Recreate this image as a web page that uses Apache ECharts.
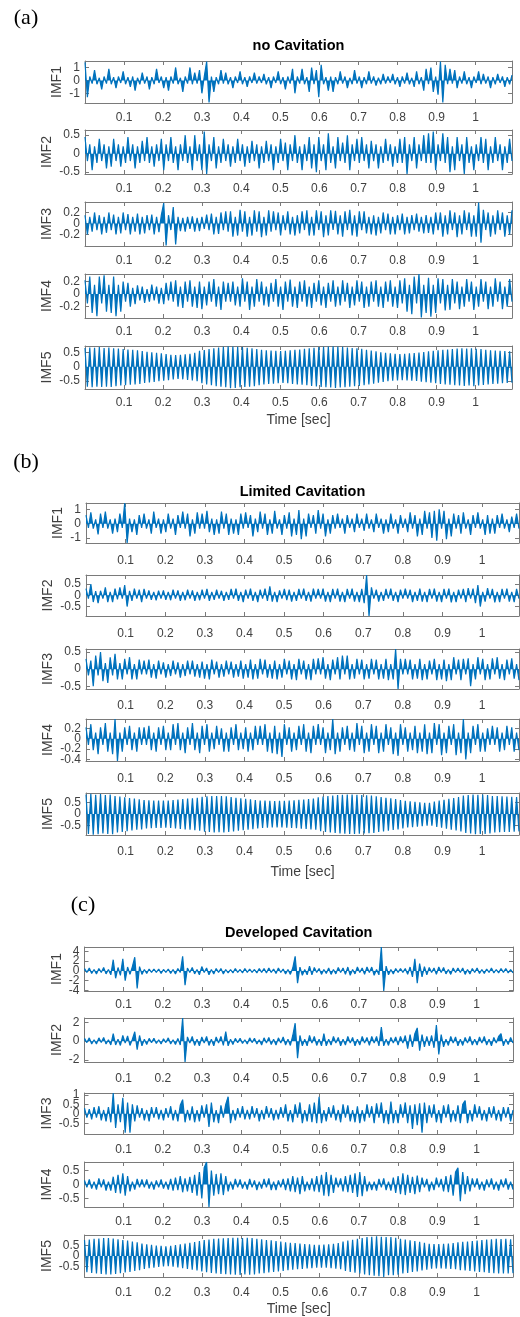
<!DOCTYPE html>
<html>
<head>
<meta charset="utf-8">
<script src="https://cdn.jsdelivr.net/npm/echarts@6/dist/echarts.min.js"></script>
<style>
  html, body { margin: 0; padding: 0; background: #fff; }
  #chart { width: 520px; height: 1317px; }
</style>
</head>
<body>
<div id="chart"></div>
<script>
// time axis (seconds) and its ticks
const tEnd = 1.093;
const xTicks = [0.1, 0.2, 0.3, 0.4, 0.5, 0.6, 0.7, 0.8, 0.9, 1];
const imfNames = ["IMF1", "IMF2", "IMF3", "IMF4", "IMF5"];
const panelTitles = ["no Cavitation", "Limited Cavitation", "Developed Cavitation"];
const panelLetters = ["(a)", "(b)", "(c)"];

// (a) no cavitation - successive extremes of each IMF, evenly spaced over tEnd
const noCavIMF1 = [
  1.4,-1.3,0.3,-0.25,0.8,-0.3,0.2,-0.7,0.3,-0.25,0.9,-0.3,
  0.25,-0.6,0.3,-0.2,0.7,-0.3,0.25,-0.5,0.3,-0.8,0.2,-0.3,
  0.6,-0.25,0.3,-0.7,0.25,-0.3,0.9,-0.2,0.3,-0.6,0.25,-0.8,
  0.3,-0.25,1.0,-0.3,0.2,-0.9,0.3,-0.25,1.0,-0.3,0.6,-0.25,
  0.8,-1.0,0.3,1.45,-1.7,0.3,-0.9,0.25,-0.3,0.8,-0.25,0.6,
  -0.3,0.25,-0.6,0.3,-0.2,0.7,-0.3,0.25,-0.5,0.3,-0.2,0.6,
  -0.25,0.3,-0.2,0.5,-0.3,0.25,-0.6,0.3,-0.2,0.7,-0.3,0.25,
  -0.7,0.3,-0.25,0.9,-1.0,0.3,-0.25,0.9,-0.3,0.25,-0.9,1.0,
  -0.3,0.8,-1.3,1.2,-0.3,0.25,-0.8,0.3,-0.9,0.25,-0.3,0.7,
  -0.25,0.3,-0.6,0.2,-0.3,0.8,-0.25,0.3,-0.6,0.25,-0.3,0.7,
  -0.25,0.3,-0.4,0.2,-0.3,0.5,-0.25,0.3,-0.2,0.5,-0.3,0.25,
  -0.5,0.3,-0.25,0.6,-0.3,0.2,-0.5,0.7,-0.3,0.25,-0.8,0.9,
  -0.3,1.0,-0.9,0.3,-1.1,1.45,-1.7,1.2,-0.3,0.9,-0.25,0.8,
  -0.6,0.3,-0.25,0.7,-0.3,0.25,-0.6,0.3,-0.2,0.7,-0.3,0.5,
  -0.25,0.3,-0.6,0.25,-0.3,0.5,-0.2,0.3,-0.5,0.25,-0.3,0.4
];
const noCavIMF2 = [
  0.45,-0.2,0.25,-0.45,0.2,-0.25,0.4,-0.2,0.25,-0.4,0.2,-0.35,
  0.4,-0.2,0.25,-0.35,0.2,-0.25,0.45,-0.2,0.25,-0.4,0.2,-0.25,
  0.35,-0.2,0.45,-0.25,0.2,-0.35,0.25,-0.2,0.4,-0.45,0.25,-0.2,
  0.45,-0.25,0.2,-0.45,0.25,-0.2,0.5,-0.25,0.2,-0.45,0.5,-0.2,
  0.25,-0.45,0.6,-0.55,0.25,-0.2,0.45,-0.4,0.2,-0.25,0.4,-0.2,
  0.25,-0.35,0.2,-0.25,0.4,-0.2,0.25,-0.35,0.2,-0.25,0.35,-0.2,
  0.25,-0.4,0.2,-0.25,0.35,-0.2,0.25,-0.45,0.2,-0.25,0.4,-0.2,
  0.3,-0.45,0.25,-0.2,0.5,-0.25,0.2,-0.45,0.25,-0.2,0.45,-0.4,
  0.25,-0.5,0.45,-0.2,0.25,-0.45,0.55,-0.25,0.2,-0.4,0.45,-0.2,
  0.3,-0.25,0.5,-0.45,0.25,-0.2,0.4,-0.25,0.45,-0.2,0.25,-0.4,
  0.35,-0.2,0.25,-0.4,0.2,-0.25,0.4,-0.2,0.25,-0.35,0.2,-0.25,
  0.4,-0.25,0.45,-0.55,0.25,-0.2,0.45,-0.4,0.25,-0.2,0.5,-0.25,
  0.55,-0.25,0.6,-0.45,0.25,-0.2,0.55,-0.25,0.45,-0.5,0.2,-0.45,
  0.45,-0.2,0.25,-0.55,0.45,-0.25,0.2,-0.45,0.25,-0.2,0.45,-0.25,
  0.4,-0.45,0.2,-0.25,0.45,-0.2,0.25,-0.45,0.2,-0.25,0.4,-0.2
];
const noCavIMF3 = [
  0.15,-0.2,0.12,-0.15,0.2,-0.12,0.15,-0.2,0.12,-0.17,0.2,-0.12,
  0.16,-0.2,0.12,-0.18,0.2,-0.12,0.17,-0.2,0.12,-0.15,0.18,-0.2,
  0.12,-0.18,0.15,-0.12,0.16,-0.2,0.12,-0.16,0.15,0.37,-0.4,0.15,
  -0.12,0.3,-0.38,0.12,-0.14,0.1,-0.15,0.12,-0.1,0.13,-0.15,0.1,
  -0.14,0.12,-0.1,0.16,-0.12,0.18,-0.2,0.12,-0.19,0.2,-0.12,0.22,
  -0.15,0.22,-0.24,0.12,-0.22,0.25,-0.15,0.22,-0.24,0.12,-0.22,0.24,
  -0.15,0.22,-0.25,0.12,-0.22,0.24,-0.15,0.22,-0.12,0.2,-0.22,0.15,
  -0.12,0.22,-0.2,0.12,-0.22,0.15,-0.18,0.22,-0.12,0.24,-0.22,0.12,
  -0.22,0.24,-0.12,0.22,-0.25,0.15,-0.22,0.24,-0.12,0.23,-0.2,0.15,
  -0.24,0.22,-0.12,0.25,-0.22,0.15,-0.24,0.22,-0.12,0.22,-0.18,0.12,
  -0.2,0.15,-0.22,0.12,-0.18,0.2,-0.12,0.18,-0.2,0.12,-0.2,0.15,
  -0.12,0.18,-0.2,0.12,-0.18,0.15,-0.12,0.18,-0.15,0.12,-0.18,0.15,
  -0.17,0.12,-0.2,0.2,-0.12,0.2,-0.24,0.15,-0.2,0.24,-0.12,0.2,
  -0.25,0.15,-0.2,0.24,-0.12,0.2,-0.24,0.15,-0.24,0.38,-0.35,0.25,
  -0.12,0.2,-0.24,0.15,-0.2,0.24,-0.12,0.2,-0.24,0.15,-0.2,0.24
];
const noCavIMF4 = [
  0.22,-0.15,0.28,-0.3,0.15,-0.35,0.28,-0.15,0.3,-0.28,0.15,-0.3,
  0.28,-0.35,0.15,-0.28,0.2,-0.12,0.18,-0.2,0.1,-0.16,0.14,-0.1,
  0.12,-0.14,0.08,-0.12,0.15,-0.1,0.12,-0.15,0.1,-0.16,0.18,-0.1,
  0.2,-0.12,0.22,-0.2,0.12,-0.22,0.2,-0.12,0.22,-0.2,0.12,-0.22,
  0.2,-0.24,0.12,-0.18,0.2,-0.12,0.24,-0.2,0.12,-0.25,0.2,-0.12,
  0.18,-0.12,0.2,-0.18,0.12,-0.2,0.25,-0.12,0.2,-0.25,0.12,-0.2,
  0.24,-0.12,0.2,-0.18,0.12,-0.2,0.18,-0.12,0.24,-0.2,0.12,-0.25,
  0.2,-0.12,0.23,-0.2,0.12,-0.22,0.2,-0.12,0.22,-0.2,0.12,-0.22,
  0.18,-0.12,0.22,-0.18,0.12,-0.22,0.18,-0.12,0.22,-0.2,0.12,-0.18,
  0.22,-0.12,0.18,-0.22,0.12,-0.18,0.22,-0.12,0.2,-0.22,0.12,-0.2,
  0.2,-0.12,0.22,-0.2,0.12,-0.22,0.2,-0.12,0.22,-0.2,0.12,-0.22,
  0.22,-0.15,0.25,-0.28,0.15,-0.32,0.28,-0.15,0.32,-0.37,0.15,-0.3,
  0.26,-0.36,0.15,-0.3,0.25,-0.15,0.24,-0.26,0.15,-0.25,0.24,-0.15,
  0.2,-0.24,0.12,-0.2,0.24,-0.12,0.2,-0.25,0.12,-0.2,0.24,-0.12,
  0.2,-0.24,0.12,-0.2,0.25,-0.12,0.2,-0.24,0.12,-0.2,0.24,-0.12
];
const noCavIMF5 = [
  0.66,-0.7,0.68,-0.72,0.67,-0.7,0.69,-0.71,0.66,-0.7,0.68,-0.71,
  0.65,-0.68,0.64,-0.66,0.62,-0.65,0.61,-0.63,0.6,-0.62,0.58,-0.6,
  0.55,-0.57,0.53,-0.55,0.51,-0.53,0.49,-0.51,0.47,-0.49,0.45,-0.47,
  0.42,-0.44,0.41,-0.43,0.42,-0.44,0.44,-0.46,0.46,-0.48,0.49,-0.51,
  0.56,-0.58,0.59,-0.62,0.62,-0.65,0.65,-0.68,0.68,-0.7,0.7,-0.72,
  0.72,-0.75,0.71,-0.74,0.7,-0.72,0.69,-0.71,0.67,-0.7,0.65,-0.68,
  0.62,-0.65,0.6,-0.62,0.58,-0.6,0.57,-0.59,0.56,-0.58,0.55,-0.57,
  0.56,-0.58,0.58,-0.6,0.6,-0.62,0.61,-0.63,0.63,-0.65,0.65,-0.67,
  0.67,-0.69,0.69,-0.71,0.7,-0.72,0.71,-0.73,0.72,-0.74,0.71,-0.73,
  0.7,-0.72,0.68,-0.7,0.66,-0.68,0.65,-0.67,0.63,-0.65,0.6,-0.62,
  0.57,-0.59,0.54,-0.56,0.51,-0.53,0.49,-0.51,0.47,-0.49,0.46,-0.48,
  0.45,-0.47,0.46,-0.48,0.47,-0.49,0.48,-0.5,0.5,-0.52,0.52,-0.54,
  0.54,-0.56,0.56,-0.58,0.58,-0.6,0.6,-0.62,0.61,-0.63,0.62,-0.65,
  0.64,-0.66,0.65,-0.67,0.64,-0.66,0.65,-0.68,0.63,-0.66,0.62,-0.64,
  0.6,-0.62,0.58,-0.6,0.57,-0.59,0.56,-0.58,0.55,-0.57,0.54,-0.56
];
const noCavYLim = [[-1.75, 1.5], [-0.55, 0.64], [-0.41, 0.39], [-0.38, 0.32], [-0.78, 0.73]];
const noCavYTicks = [[-1, 0, 1], [-0.5, 0, 0.5], [-0.2, 0, 0.2], [-0.2, 0, 0.2], [-0.5, 0, 0.5]];

// (b) limited cavitation
const limCavIMF1 = [
  0.6,-0.3,0.8,-0.35,0.3,-0.75,0.7,-0.3,0.85,-0.35,0.3,-0.7,
  0.35,-0.6,0.7,-0.3,1.45,-1.36,0.35,-0.6,0.3,-0.8,0.6,-0.3,
  0.7,-0.35,0.3,-0.7,0.85,-0.3,0.35,-0.7,0.3,-0.6,0.7,-0.35,
  0.35,-0.8,0.6,-0.3,0.85,-0.35,0.7,-0.9,0.3,-0.7,0.8,-0.35,
  0.7,-0.35,0.9,-0.6,0.35,-0.8,0.3,-0.7,0.85,-0.35,0.7,-0.8,
  0.35,-0.7,0.3,-0.8,0.7,-0.35,0.8,-0.3,0.6,-0.9,0.35,-0.6,
  0.85,-0.35,0.7,-0.8,0.3,-0.7,0.9,-0.35,0.3,-0.8,0.6,-0.35,
  0.8,-0.9,0.35,-0.8,0.95,-1.1,0.35,-0.9,0.7,-0.3,0.6,-0.7,
  0.95,-0.35,0.7,-0.9,0.3,-0.7,0.6,-0.35,0.7,-0.3,0.35,-0.7,
  0.6,-0.3,0.35,-0.6,0.7,-0.3,0.35,-0.5,0.7,-0.35,0.3,-0.6,
  0.7,-0.3,0.35,-0.7,0.3,-0.6,0.7,-0.35,0.3,-0.7,0.6,-0.3,
  0.35,-0.6,0.8,-0.35,0.6,-0.9,0.35,-0.8,0.9,-0.35,0.8,-1.0,
  0.9,-1.2,1.0,-0.35,0.9,-1.1,0.35,-0.9,0.7,-0.35,0.6,-0.7,
  0.8,-0.35,0.3,-0.8,0.6,-0.3,0.8,-0.35,0.3,-0.8,0.6,-0.7,
  0.35,-0.7,0.6,-0.3,0.7,-0.35,0.3,-0.6,0.5,-0.3,0.7,-0.35
];
const limCavIMF2 = [
  0.3,-0.15,0.5,-0.3,0.18,-0.35,0.2,-0.15,0.35,-0.3,0.15,-0.3,
  0.3,-0.18,0.35,-0.15,0.45,-0.5,0.2,-0.25,0.3,-0.15,0.25,-0.3,
  0.28,-0.15,0.22,-0.2,0.15,-0.22,0.2,-0.15,0.22,-0.2,0.15,-0.22,
  0.25,-0.15,0.22,-0.25,0.15,-0.22,0.25,-0.15,0.22,-0.25,0.15,-0.22,
  0.25,-0.15,0.28,-0.25,0.15,-0.2,0.25,-0.15,0.2,-0.25,0.15,-0.2,
  0.28,-0.15,0.3,-0.25,0.15,-0.3,0.25,-0.15,0.3,-0.25,0.15,-0.3,
  0.25,-0.15,0.3,-0.25,0.4,-0.28,0.15,-0.3,0.22,-0.15,0.28,-0.22,
  0.25,-0.28,0.15,-0.25,0.28,-0.15,0.3,-0.25,0.15,-0.28,0.3,-0.15,
  0.28,-0.15,0.3,-0.28,0.15,-0.3,0.28,-0.15,0.3,-0.28,0.15,-0.3,
  0.28,-0.15,0.3,-0.28,0.15,-0.3,0.28,-0.35,0.9,-0.92,0.35,-0.15,
  0.25,-0.28,0.15,-0.25,0.28,-0.15,0.3,-0.25,0.15,-0.3,0.25,-0.15,
  0.3,-0.15,0.25,-0.3,0.15,-0.25,0.3,-0.28,0.15,-0.3,0.28,-0.15,
  0.3,-0.28,0.15,-0.3,0.28,-0.15,0.3,-0.32,0.15,-0.3,0.25,-0.15,
  0.28,-0.3,0.32,-0.15,0.3,-0.35,0.45,-0.5,0.15,-0.28,0.32,-0.15,
  0.28,-0.32,0.15,-0.3,0.28,-0.15,0.3,-0.28,0.15,-0.3,0.28,-0.15
];
const limCavIMF3 = [
  0.3,-0.18,0.25,-0.5,0.4,-0.18,0.5,-0.35,0.18,-0.4,0.35,-0.18,
  0.45,-0.3,0.18,-0.3,0.3,-0.15,0.35,-0.3,0.15,-0.3,0.28,-0.15,
  0.25,-0.15,0.28,-0.25,0.15,-0.28,0.25,-0.15,0.2,-0.25,0.15,-0.2,
  0.25,-0.15,0.2,-0.25,0.15,-0.2,0.25,-0.15,0.25,-0.22,0.15,-0.25,
  0.22,-0.28,0.15,-0.3,0.28,-0.15,0.22,-0.25,0.15,-0.22,0.25,-0.15,
  0.22,-0.25,0.15,-0.22,0.25,-0.28,0.15,-0.25,0.28,-0.3,0.15,-0.28,
  0.3,-0.15,0.28,-0.25,0.15,-0.28,0.25,-0.3,0.15,-0.25,0.3,-0.15,
  0.25,-0.3,0.15,-0.32,0.3,-0.15,0.25,-0.3,0.15,-0.32,0.3,-0.15,
  0.32,-0.15,0.35,-0.28,0.15,-0.32,0.28,-0.15,0.35,-0.3,0.4,-0.15,
  0.4,-0.3,0.15,-0.28,0.3,-0.15,0.28,-0.3,0.15,-0.28,0.3,-0.15,
  0.28,-0.3,0.15,-0.28,0.3,-0.32,0.15,-0.3,0.59,-0.58,0.3,-0.15,
  0.3,-0.15,0.28,-0.3,0.15,-0.28,0.3,-0.32,0.15,-0.3,0.25,-0.15,
  0.3,-0.32,0.15,-0.3,0.28,-0.35,0.15,-0.32,0.35,-0.15,0.28,-0.32,
  0.3,-0.15,0.32,-0.5,0.15,-0.3,0.35,-0.15,0.3,-0.32,0.15,-0.3,
  0.32,-0.15,0.35,-0.28,0.15,-0.32,0.28,-0.15,0.32,-0.28,0.15,-0.32
];
const limCavIMF4 = [
  0.22,-0.12,0.28,-0.22,0.12,-0.3,0.22,-0.12,0.3,-0.25,0.12,-0.3,
  0.38,-0.43,0.12,-0.25,0.22,-0.12,0.25,-0.22,0.12,-0.25,0.22,-0.12,
  0.22,-0.12,0.25,-0.22,0.12,-0.25,0.22,-0.12,0.25,-0.22,0.12,-0.22,
  0.28,-0.12,0.3,-0.22,0.12,-0.28,0.22,-0.12,0.3,-0.22,0.12,-0.28,
  0.25,-0.12,0.28,-0.25,0.12,-0.2,0.25,-0.12,0.2,-0.25,0.12,-0.25,
  0.22,-0.12,0.28,-0.22,0.12,-0.2,0.22,-0.25,0.12,-0.22,0.25,-0.12,
  0.25,-0.12,0.28,-0.25,0.12,-0.28,0.25,-0.3,0.12,-0.35,0.28,-0.12,
  0.22,-0.25,0.12,-0.22,0.25,-0.12,0.28,-0.25,0.12,-0.28,0.25,-0.12,
  0.28,-0.12,0.22,-0.28,0.12,-0.22,0.38,-0.3,0.12,-0.25,0.22,-0.12,
  0.25,-0.22,0.12,-0.25,0.3,-0.12,0.25,-0.28,0.12,-0.25,0.28,-0.12,
  0.25,-0.28,0.12,-0.25,0.28,-0.12,0.22,-0.3,0.12,-0.33,0.28,-0.12,
  0.22,-0.25,0.12,-0.22,0.25,-0.28,0.12,-0.25,0.28,-0.3,0.12,-0.28,
  0.3,-0.12,0.28,-0.32,0.12,-0.28,0.25,-0.12,0.28,-0.32,0.12,-0.28,
  0.38,-0.4,0.12,-0.28,0.25,-0.12,0.28,-0.25,0.12,-0.25,0.2,-0.12,
  0.25,-0.12,0.22,-0.25,0.12,-0.22,0.25,-0.12,0.22,-0.25,0.12,-0.22
];
const limCavIMF5 = [
  0.86,-0.88,0.9,-0.92,0.85,-0.9,0.88,-0.86,0.84,-0.88,0.86,-0.9,
  0.8,-0.82,0.77,-0.79,0.74,-0.76,0.71,-0.73,0.68,-0.7,0.65,-0.68,
  0.62,-0.64,0.61,-0.63,0.6,-0.62,0.6,-0.62,0.59,-0.61,0.6,-0.62,
  0.62,-0.64,0.64,-0.66,0.66,-0.68,0.68,-0.7,0.7,-0.72,0.72,-0.74,
  0.76,-0.78,0.78,-0.8,0.8,-0.82,0.79,-0.81,0.8,-0.82,0.78,-0.8,
  0.75,-0.77,0.72,-0.74,0.7,-0.72,0.67,-0.69,0.65,-0.67,0.62,-0.64,
  0.6,-0.62,0.59,-0.61,0.58,-0.6,0.57,-0.6,0.58,-0.6,0.58,-0.61,
  0.6,-0.62,0.61,-0.63,0.63,-0.65,0.64,-0.66,0.66,-0.68,0.68,-0.7,
  0.74,-0.76,0.77,-0.79,0.8,-0.82,0.82,-0.84,0.84,-0.86,0.85,-0.87,
  0.86,-0.88,0.86,-0.88,0.85,-0.87,0.84,-0.86,0.83,-0.85,0.82,-0.84,
  0.78,-0.8,0.75,-0.77,0.72,-0.74,0.69,-0.71,0.66,-0.68,0.62,-0.64,
  0.58,-0.6,0.56,-0.58,0.54,-0.56,0.52,-0.54,0.5,-0.52,0.5,-0.52,
  0.55,-0.57,0.59,-0.61,0.63,-0.65,0.67,-0.69,0.71,-0.73,0.75,-0.77,
  0.82,-0.84,0.84,-0.86,0.86,-0.9,0.85,-0.88,0.86,-0.88,0.84,-0.86,
  0.8,-0.82,0.79,-0.81,0.78,-0.8,0.77,-0.79,0.76,-0.78,0.75,-0.77
];
const limCavYLim = [[-1.36, 1.45], [-0.92, 0.9], [-0.58, 0.59], [-0.43, 0.38], [-0.93, 0.93]];
const limCavYTicks = [[-1, 0, 1], [-0.5, 0, 0.5], [-0.5, 0, 0.5], [-0.4, -0.2, 0, 0.2], [-0.5, 0, 0.5]];

// (c) developed cavitation
const devCavIMF1 = [
  0.5,-0.3,0.6,-0.5,0.3,-0.6,0.5,-0.3,0.7,-0.6,0.3,-0.8,
  2.3,-1.5,0.7,-0.9,2.5,-2.0,0.8,-0.7,0.9,2.8,-3.6,0.9,
  -0.7,0.3,-0.5,0.4,-0.3,0.4,-0.3,0.4,-0.5,0.3,-0.3,0.4,
  -0.5,0.3,-0.6,0.5,-0.3,3.0,-2.9,0.6,-0.3,0.7,-0.6,0.3,
  -0.8,0.9,-0.3,0.6,-0.8,0.3,-0.6,0.5,-0.3,0.5,-0.6,0.3,
  -0.4,0.3,-0.4,0.5,-0.3,0.3,-0.4,0.5,-0.3,0.4,-0.3,0.3,
  -0.4,0.5,-0.3,0.5,-0.4,0.6,-0.3,0.4,-0.5,0.6,-0.3,0.4,
  -0.6,0.3,-0.7,0.6,3.0,-2.5,0.8,-0.9,0.3,-0.8,1.0,-0.8,
  0.7,-0.3,0.5,-0.7,0.3,-0.5,0.6,-0.7,0.3,-0.6,0.7,-0.3,
  0.6,-0.7,0.8,-0.9,0.3,-0.6,0.8,-0.3,0.6,-0.7,0.8,-0.3,
  0.8,-0.9,0.3,-0.8,4.9,-4.1,1.0,-0.8,0.3,-0.6,0.5,-0.3,
  0.5,-0.3,0.5,-0.7,0.8,-1.2,2.5,-2.5,1.5,-1.2,0.9,-0.8,
  0.7,-0.3,0.6,-0.7,0.8,-0.3,0.7,-0.6,0.3,-0.7,0.6,-0.3,
  0.6,-0.3,0.6,-0.7,0.3,-0.6,0.5,-0.3,0.6,-0.5,0.3,-0.5,
  0.4,-0.3,0.6,-0.4,0.3,-0.4,0.5,-0.3,0.5,-0.4,0.3,-0.4
];
const devCavIMF2 = [
  0.3,-0.15,0.35,-0.3,0.15,-0.3,0.35,-0.15,0.4,-0.3,0.15,-0.4,
  0.8,-0.4,0.2,-0.45,0.6,-0.2,0.55,-0.45,0.2,1.0,-0.9,0.6,
  -0.5,0.2,-0.35,0.3,-0.15,0.3,-0.25,0.15,-0.3,0.25,-0.15,0.35,
  -0.3,0.15,-0.35,0.3,-0.4,2.45,-2.2,0.45,-0.2,0.5,-0.45,0.2,
  -0.5,0.45,-0.2,0.5,-0.45,0.2,-0.5,0.45,-0.2,0.5,-0.45,1.0,
  -0.5,0.2,-0.35,0.3,-0.15,0.3,-0.25,0.15,-0.3,0.35,-0.15,0.3,
  -0.3,0.15,-0.4,0.35,-0.2,0.4,-0.35,0.2,-0.4,0.35,-0.2,0.45,
  -0.4,0.2,-0.45,0.6,1.9,-1.8,0.6,-0.5,0.2,-0.5,0.6,-0.2,
  0.5,-0.45,0.2,-0.5,0.8,-0.5,0.2,-0.4,0.5,-0.2,0.4,-0.5,
  0.2,-0.4,0.5,-0.2,0.4,-0.5,0.2,-0.4,0.5,-0.2,0.4,-0.45,
  0.5,-0.2,0.5,-0.5,1.5,-0.5,0.2,-0.45,0.4,-0.2,0.45,-0.4,
  0.5,-0.2,0.6,-0.8,0.7,-0.6,0.8,1.4,-1.0,0.7,-0.6,0.5,
  -0.5,0.6,-0.7,1.7,-1.4,0.7,-0.6,0.2,-0.45,0.5,-0.2,0.45,
  -0.5,0.2,-0.45,0.4,-0.2,0.5,-0.4,0.2,-0.4,0.45,-0.2,0.5,
  -0.4,0.2,-0.5,0.4,-0.2,0.5,0.8,-0.5,0.2,-0.35,0.4,-0.2
];
const devCavIMF3 = [
  0.3,-0.2,0.25,-0.3,0.35,-0.2,0.4,-0.35,0.2,-0.4,0.35,-0.45,
  1.1,-0.75,0.5,-0.45,0.85,-1.0,0.6,-1.0,0.5,-0.4,0.45,-0.2,
  0.3,-0.35,0.2,-0.4,0.35,-0.2,0.35,-0.3,0.2,-0.35,0.3,-0.2,
  0.4,-0.35,0.2,-0.4,0.45,0.75,-0.45,0.2,-0.35,0.4,-0.45,0.2,
  -0.4,0.45,-0.2,0.5,-0.7,0.6,-0.45,0.2,-0.5,0.45,-0.2,0.5,
  0.9,-0.5,0.2,-0.35,0.3,-0.2,0.4,-0.3,0.2,-0.3,0.4,-0.2,
  0.3,-0.4,0.2,-0.3,0.4,-0.2,0.3,-0.35,0.2,-0.3,0.35,-0.2,
  0.5,-0.4,0.2,-0.45,0.5,-0.2,0.6,-0.5,0.2,-0.4,0.5,-0.45,
  0.6,-0.5,0.9,-0.5,0.2,-0.4,0.35,-0.2,0.45,-0.35,0.2,-0.45,
  0.5,-0.2,0.45,-0.4,0.2,-0.45,0.4,-0.5,0.2,-0.4,0.5,-0.2,
  0.4,-0.5,0.55,-0.2,0.6,-0.5,0.2,-0.55,0.65,-0.5,0.2,-0.5,
  0.5,-0.2,0.6,-0.5,0.45,-0.8,0.5,-0.6,0.55,-1.0,0.6,-0.5,
  0.45,-0.2,0.5,-0.45,0.2,-0.5,0.45,-0.2,0.5,-0.45,0.2,-0.4,
  0.45,-0.5,0.5,0.7,-0.5,0.2,-0.4,0.5,-0.2,0.4,-0.35,0.2,
  -0.4,0.35,-0.2,0.4,-0.35,0.2,-0.4,0.35,-0.2,0.35,-0.4,0.2
];
const devCavIMF4 = [
  0.15,-0.1,0.18,-0.15,0.1,-0.18,0.22,-0.1,0.18,-0.22,0.1,-0.22,
  0.28,-0.3,0.35,-0.32,0.4,-0.4,0.3,-0.25,0.1,-0.18,0.2,-0.1,
  0.18,-0.1,0.18,-0.15,0.1,-0.18,0.15,-0.1,0.18,-0.15,0.1,-0.18,
  0.2,-0.22,0.25,-0.2,0.3,-0.28,0.22,-0.25,0.28,-0.3,0.35,-0.4,
  0.45,-0.5,0.6,0.81,-0.81,0.5,-0.4,0.38,-0.35,0.4,-0.38,0.3,
  -0.25,0.1,-0.18,0.2,-0.1,0.18,-0.15,0.1,-0.18,0.2,-0.1,0.15,
  -0.2,0.1,-0.15,0.2,-0.1,0.22,-0.2,0.1,-0.2,0.15,-0.1,0.2,
  -0.2,0.22,-0.25,0.3,-0.28,0.25,-0.35,0.3,-0.25,0.1,-0.2,0.22,
  -0.25,0.3,-0.28,0.35,-0.4,0.45,-0.42,0.35,-0.3,0.25,-0.1,0.22,
  -0.25,0.3,-0.28,0.35,-0.3,0.4,-0.45,0.45,-0.42,0.3,-0.25,0.1,
  -0.2,0.1,-0.22,0.2,-0.1,0.22,-0.2,0.1,-0.22,0.25,-0.3,0.3,
  -0.35,0.4,-0.38,0.35,-0.3,0.28,-0.35,0.32,-0.28,0.25,-0.1,0.2,
  -0.25,0.1,-0.2,0.25,-0.1,0.2,-0.25,0.3,-0.28,0.35,-0.4,0.45,
  0.6,-0.6,0.45,-0.35,0.3,-0.25,0.22,-0.1,0.22,-0.18,0.1,-0.22,
  0.18,-0.1,0.22,-0.18,0.1,-0.22,0.18,-0.1,0.22,-0.18,0.1,-0.18
];
const devCavIMF5 = [
  0.74,-0.76,0.77,-0.79,0.8,-0.82,0.82,-0.84,0.84,-0.86,0.84,-0.86,
  0.82,-0.84,0.78,-0.8,0.75,-0.77,0.72,-0.74,0.68,-0.7,0.64,-0.66,
  0.58,-0.6,0.55,-0.57,0.52,-0.54,0.49,-0.51,0.47,-0.49,0.45,-0.47,
  0.48,-0.5,0.51,-0.53,0.55,-0.57,0.58,-0.6,0.62,-0.64,0.65,-0.67,
  0.7,-0.72,0.74,-0.76,0.77,-0.79,0.8,-0.82,0.82,-0.84,0.83,-0.85,
  0.84,-0.86,0.85,-0.87,0.85,-0.88,0.84,-0.86,0.85,-0.87,0.84,-0.86,
  0.8,-0.82,0.78,-0.8,0.75,-0.77,0.73,-0.75,0.7,-0.72,0.68,-0.7,
  0.64,-0.66,0.62,-0.64,0.6,-0.62,0.58,-0.6,0.56,-0.58,0.55,-0.57,
  0.52,-0.54,0.52,-0.54,0.53,-0.55,0.55,-0.57,0.57,-0.59,0.6,-0.62,
  0.68,-0.7,0.72,-0.74,0.76,-0.78,0.8,-0.82,0.84,-0.86,0.88,-0.9,
  0.9,-0.92,0.92,-0.94,0.9,-0.98,0.88,-0.9,0.88,-0.9,0.85,-0.87,
  0.8,-0.82,0.77,-0.79,0.73,-0.75,0.7,-0.72,0.66,-0.68,0.62,-0.64,
  0.57,-0.59,0.56,-0.58,0.56,-0.58,0.57,-0.59,0.58,-0.6,0.6,-0.62,
  0.64,-0.66,0.66,-0.68,0.68,-0.7,0.7,-0.72,0.72,-0.74,0.74,-0.76,
  0.77,-0.79,0.78,-0.8,0.8,-0.82,0.79,-0.81,0.8,-0.82,0.78,-0.8
];
const devCavYLim = [[-4.1, 4.9], [-2.2, 2.45], [-1.07, 1.1], [-0.81, 0.81], [-0.98, 0.98]];
const devCavYTicks = [[-4, -2, 0, 2, 4], [-2, 0, 2], [-0.5, 0, 0.5, 1], [-0.5, 0, 0.5], [-0.5, 0, 0.5]];

const panels = [
  { signals: [noCavIMF1, noCavIMF2, noCavIMF3, noCavIMF4, noCavIMF5], ylim: noCavYLim, yticks: noCavYTicks },
  { signals: [limCavIMF1, limCavIMF2, limCavIMF3, limCavIMF4, limCavIMF5], ylim: limCavYLim, yticks: limCavYTicks },
  { signals: [devCavIMF1, devCavIMF2, devCavIMF3, devCavIMF4, devCavIMF5], ylim: devCavYLim, yticks: devCavYTicks },
];

// pixel layout of the three subplot stacks
const layout = [
  { left: 85, right: 512, tops: [61, 130, 202, 274, 346], bottoms: [103, 174, 246, 318, 389],
    xLabelY: [116, 187, 259, 330, 401], timeY: 419, titleY: 46, letterX: 26, letterY: 18, nameX: [55, 45, 45, 45, 45] },
  { left: 86, right: 519, tops: [503, 575, 649, 719, 793], bottoms: [543, 616, 689, 761, 835],
    xLabelY: [559, 632, 704, 777, 850], timeY: 871, titleY: 492, letterX: 26, letterY: 462, nameX: [56, 46, 46, 46, 46] },
  { left: 84.5, right: 513, tops: [947, 1018, 1093, 1162, 1235], bottoms: [991, 1062, 1134, 1207, 1278],
    xLabelY: [1003, 1077, 1148, 1220, 1292], timeY: 1309, titleY: 933, letterX: 83, letterY: 905, nameX: [55, 55, 45, 45, 45] },
];

const font = "'Liberation Sans', Arial, Helvetica, sans-serif";
const boxColor = "#7a7a7a";
const textColor = "#404040";
const lineColor = "#0072BD";

function toPoints(values) {
  const step = tEnd / (values.length - 1);
  return values.map((v, i) => [i * step, v]);
}

function fmt(v) {
  return String(Math.round(v * 10) / 10);
}

const grid = [];
const xAxis = [];
const yAxis = [];
const series = [];
const graphic = [];

panels.forEach((panel, p) => {
  const L = layout[p];
  graphic.push({
    type: "text", x: L.letterX, y: L.letterY, silent: true,
    style: { text: panelLetters[p], font: "22px 'Liberation Serif', 'Times New Roman', serif",
      fill: "#000", textAlign: "center", textVerticalAlign: "middle", align: "center", verticalAlign: "middle" },
  });
  graphic.push({
    type: "text", x: (L.left + L.right) / 2, y: L.titleY, silent: true,
    style: { text: panelTitles[p], font: "bold 14.5px " + font,
      fill: "#000", textAlign: "center", textVerticalAlign: "middle", align: "center", verticalAlign: "middle" },
  });

  panel.signals.forEach((sig, k) => {
    const g = grid.length;
    const top = L.tops[k];
    const bottom = L.bottoms[k];
    const ylim = panel.ylim[k];
    grid.push({ left: L.left, top: top, width: L.right - L.left, height: bottom - top });

    const line = { lineStyle: { color: boxColor, width: 1 } };
    const last = k === panel.signals.length - 1;
    xAxis.push({
      gridIndex: g, type: "value", min: 0, max: tEnd, position: "bottom",
      axisLine: { show: true, onZero: false, ...line },
      axisTick: { show: true, inside: true, length: 4, customValues: xTicks, ...line },
      axisLabel: { customValues: xTicks, formatter: fmt, margin: L.xLabelY[k] - bottom - 4,
        showMinLabel: true, showMaxLabel: true, hideOverlap: false,
        color: textColor, fontSize: 12, fontFamily: font },
      splitLine: { show: false },
      name: last ? "Time [sec]" : "",
      nameLocation: "middle",
      nameGap: L.timeY - bottom - 6,
      nameMoveOverlap: false,
      nameTextStyle: { color: textColor, fontSize: 14, fontFamily: font },
    });
    xAxis.push({
      gridIndex: g, type: "value", min: 0, max: tEnd, position: "top",
      axisLine: { show: true, onZero: false, ...line },
      axisTick: { show: true, inside: true, length: 4, customValues: xTicks, ...line },
      axisLabel: { show: false },
      splitLine: { show: false },
    });
    // tick labels are split over two left axes so close labels are not thinned out
    const ticks = panel.yticks[k];
    const evenTicks = ticks.filter((v, i) => i % 2 === 0);
    const oddTicks = ticks.filter((v, i) => i % 2 === 1);
    const labelStyle = { formatter: (v) => String(v), margin: 5, showMinLabel: true, showMaxLabel: true,
      hideOverlap: false, color: textColor, fontSize: 12, fontFamily: font };
    yAxis.push({
      gridIndex: g, type: "value", min: ylim[0], max: ylim[1], position: "left",
      axisLine: { show: true, onZero: false, ...line },
      axisTick: { show: true, inside: true, length: 4, customValues: ticks, ...line },
      axisLabel: { customValues: evenTicks, ...labelStyle },
      splitLine: { show: false },
      name: imfNames[k],
      nameLocation: "middle",
      nameRotate: 90,
      nameGap: L.left - L.nameX[k] - 9,
      nameMoveOverlap: false,
      nameTextStyle: { color: textColor, fontSize: 14, fontFamily: font },
    });
    yAxis.push({
      gridIndex: g, type: "value", min: ylim[0], max: ylim[1], position: "right",
      axisLine: { show: true, onZero: false, ...line },
      axisTick: { show: true, inside: true, length: 4, customValues: ticks, ...line },
      axisLabel: { show: false },
      splitLine: { show: false },
    });
    yAxis.push({
      gridIndex: g, type: "value", min: ylim[0], max: ylim[1], position: "left",
      axisLine: { show: false, onZero: false },
      axisTick: { show: false },
      axisLabel: { customValues: oddTicks, ...labelStyle },
      splitLine: { show: false },
    });

    series.push({
      type: "line",
      xAxisIndex: 2 * g,
      yAxisIndex: 3 * g,
      data: toPoints(sig),
      showSymbol: false,
      symbol: "none",
      silent: true,
      lineStyle: { color: lineColor, width: 1.2 },
      areaStyle: { color: lineColor, opacity: 1 },
    });
  });
});

const chart = echarts.init(document.getElementById("chart"), null, { renderer: "canvas" });
chart.setOption({
  animation: false,
  backgroundColor: "#fff",
  grid: grid,
  xAxis: xAxis,
  yAxis: yAxis,
  series: series,
  graphic: graphic,
});
</script>
</body>
</html>
